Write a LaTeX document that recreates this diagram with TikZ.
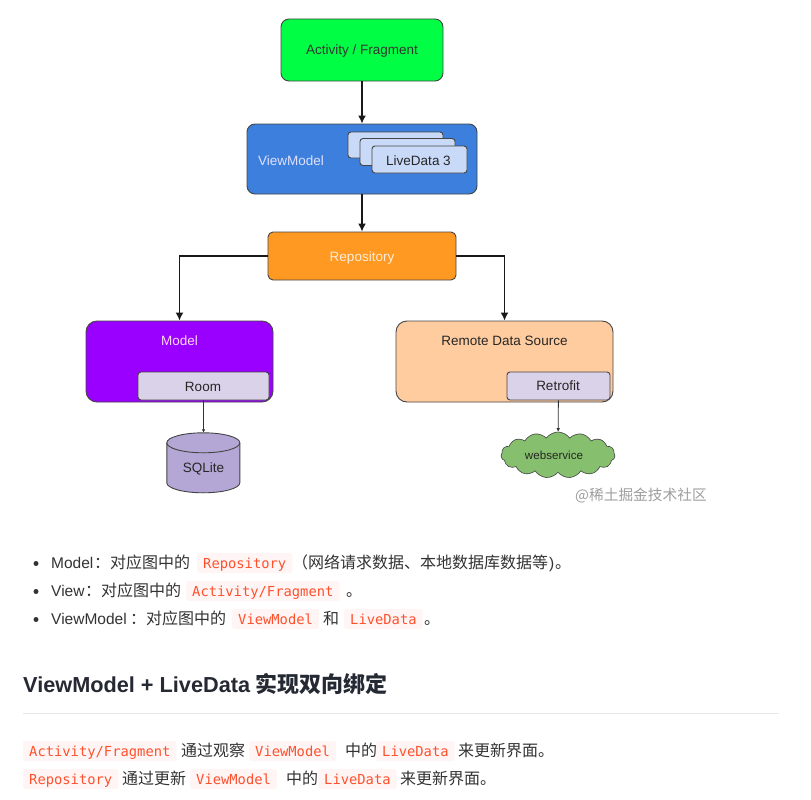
\documentclass[tikz,border=0pt]{standalone}
\usepackage{fontspec}
\setmainfont{Liberation Sans}
\newfontfamily\cjk{Noto Sans CJK SC}
\newfontfamily\codefont{DejaVu Sans Mono}
\usetikzlibrary{arrows.meta,shapes.symbols}
\definecolor{edgec}{HTML}{444444}
\definecolor{inkc}{HTML}{333333}
\definecolor{chipbg}{HTML}{FFF5F5}
\definecolor{chipfg}{HTML}{FF502C}
\definecolor{headc}{HTML}{252933}
\tikzset{
 box/.style={draw=edgec,line width=0.9pt,rounded corners=#1,inner sep=0pt},
 box/.default=7pt,
 lbl/.style={inner sep=0pt,font=\fontsize{13.5}{16}\selectfont},
 arrowbig/.style={draw=black!90,line width=1.5pt,-{Latex[length=8pt,width=8pt]}},
 arrowthin/.style={draw=black!80,line width=0.8pt,-{Latex[length=3.5pt,width=3.5pt]}},
 chip/.style={anchor=base west,fill=chipbg,text=chipfg,rounded corners=2.5pt,inner xsep=6pt,inner ysep=0pt,text height=15pt,text depth=5pt,font=\fontsize{13.8}{16}\selectfont\codefont},
 body/.style={anchor=base west,inner sep=0pt,text=inkc,font=\fontsize{15.5}{18}\selectfont},
 bodyzh/.style={anchor=base west,inner sep=0pt,text=inkc,font=\fontsize{16}{18}\selectfont\cjk},
 dot/.style={circle,fill=inkc,inner sep=0pt,minimum size=5pt},
}
\begin{document}
\begin{tikzpicture}[x=1pt,y=-1pt]
\useasboundingbox[fill=white] (0,0) rectangle (811,800);
% boxes
\node[box=8pt,fill={rgb,255:red,0;green,255;blue,68},minimum width=162pt,minimum height=62pt] (act) at (362,50) {};
\node[lbl,text=black!80] (acttxt) at (362,51.5) {Activity / Fragment};
\node[box=8pt,fill={rgb,255:red,60;green,127;blue,221},minimum width=230pt,minimum height=70pt] (vm) at (362,159) {};
\node[lbl,text=white!88!blue,anchor=west] (vmtxt) at (258,160.5) {ViewModel};
\node[box=3pt,fill={rgb,255:red,201;green,218;blue,248},minimum width=95pt,minimum height=26pt] (ld1) at (395.5,145) {};
\node[box=3pt,fill={rgb,255:red,201;green,218;blue,248},minimum width=95pt,minimum height=27pt] (ld2) at (407.5,152) {};
\node[box=3pt,fill={rgb,255:red,201;green,218;blue,248},minimum width=95pt,minimum height=27pt] (ld3) at (419.5,159.5) {};
\node[lbl,text=black!85] (ldtxt) at (418.5,160.5) {LiveData 3};
\node[box=5pt,fill={rgb,255:red,255;green,153;blue,34},minimum width=188pt,minimum height=48pt] (repo) at (362,256) {};
\node[lbl,text=white!85!orange] (repotxt) at (362,258) {Repository};
\node[box=11pt,fill={rgb,255:red,153;green,0;blue,255},minimum width=187pt,minimum height=81pt] (model) at (179.5,361.5) {};
\node[lbl,text=white!85!magenta] (modeltxt) at (179.5,340.5) {Model};
\node[box=3pt,fill={rgb,255:red,218;green,210;blue,233},minimum width=131pt,minimum height=28pt] (room) at (203.5,386) {};
\node[lbl,text=black!85] (roomtxt) at (203,386.5) {Room};
\node[box=11pt,fill={rgb,255:red,255;green,204;blue,160},minimum width=217pt,minimum height=81pt] (remote) at (504.5,361.5) {};
\node[lbl,text=black!85] (remotetxt) at (504.5,340.5) {Remote Data Source};
\node[box=3pt,fill={rgb,255:red,218;green,210;blue,233},minimum width=103pt,minimum height=28pt] (retro) at (558.5,386) {};
\node[lbl,text=black!85] (retrotxt) at (558,385.5) {Retrofit};
% cylinder, drawn on the frame of an invisible node
\node[inner sep=0pt,minimum width=73pt,minimum height=60pt] (sql) at (203.5,463) {};
\draw[draw=edgec,line width=0.9pt,fill={rgb,255:red,180;green,167;blue,214}]
  (sql.north west) ++(0,10) arc[start angle=180,end angle=0,x radius=36.5pt,y radius=10pt]
  -- ++(0,40) arc[start angle=0,end angle=-180,x radius=36.5pt,y radius=10pt] -- cycle;
\draw[draw=edgec,line width=0.9pt] (sql.north west) ++(0,10) arc[start angle=180,end angle=360,x radius=36.5pt,y radius=10pt];
\node[lbl,text=black!85] (sqltxt) at (203.5,469) {SQLite};
\node[cloud,cloud puffs=15,cloud puff arc=110,aspect=2.5,draw=edgec,line width=0.6pt,fill={rgb,255:red,134;green,192;blue,110},minimum width=114pt,minimum height=46pt,inner sep=0pt] (web) at (558,455) {};
\node[lbl,font=\fontsize{11.6}{14}\selectfont,text=black!85] (webtxt) at (554,455) {webservice};
% connectors
\draw[arrowbig] (act) -- (vm);
\draw[arrowbig] (vm) -- (repo);
\draw[arrowbig] (repo.west) -| (model.north);
\draw[arrowbig] (repo.east) -| (remote.north);
\draw[arrowthin] (room) -- (sql);
\draw[arrowthin] (retro) -- (web);
% watermark
\node[anchor=west,inner sep=0pt,text=black!38,font=\fontsize{14.7}{18}\selectfont\cjk] (wm) at (575,495.5) {@稀土掘金技术社区};
% bullets
\node[dot] (b1) at (36,563.5) {};
\node[dot] (b2) at (36,591.5) {};
\node[dot] (b3) at (36,619.5) {};
\node[body] (l1a) at (51,568) {Model};
\node[bodyzh] (l1b) at (94,568) {：对应图中的};
\node[chip] (l1c) at (197,568) {Repository};
\node[bodyzh] (l1d) at (292,568) {（网络请求数据、本地数据库数据等};
\node[body] (l1e) at (549,568) {)};
\node[bodyzh] (l1f) at (555,568) {。};
\node[body] (l2a) at (51,596) {View};
\node[bodyzh] (l2b) at (85,596) {：对应图中的};
\node[chip] (l2c) at (186,596) {Activity/Fragment};
\node[bodyzh] (l2d) at (346,596) {。};
\node[body] (l3a) at (51,624) {ViewModel};
\node[bodyzh] (l3b) at (130,624) {：对应图中的};
\node[chip] (l3c) at (232,624) {ViewModel};
\node[bodyzh] (l3d) at (323,624) {和};
\node[chip] (l3e) at (344,624) {LiveData};
\node[bodyzh] (l3f) at (424,624) {。};
% heading
\node[anchor=base west,inner sep=0pt,text=headc,font=\fontsize{21.7}{26}\selectfont\bfseries] (h1a) at (23,692) {ViewModel + LiveData};
\node[anchor=base west,inner sep=0pt,text=headc,font=\fontsize{22}{26}\selectfont\cjk\bfseries] (h1b) at (255,692) {实现双向绑定};
\fill[black!9] (23,712.5) rectangle (779,713.5);
% paragraph
\node[chip] (p1a) at (23,756) {Activity/Fragment};
\node[bodyzh] (p1b) at (181,756) {通过观察};
\node[chip] (p1c) at (249,756) {ViewModel};
\node[bodyzh] (p1d) at (345,756) {中的};
\node[chip] (p1e) at (376,756) {LiveData};
\node[bodyzh] (p1f) at (458,756) {来更新界面。};
\node[chip] (p2a) at (23,784) {Repository};
\node[bodyzh] (p2b) at (122,784) {通过更新};
\node[chip] (p2c) at (190,784) {ViewModel};
\node[bodyzh] (p2d) at (286,784) {中的};
\node[chip] (p2e) at (318,784) {LiveData};
\node[bodyzh] (p2f) at (400,784) {来更新界面。};
\end{tikzpicture}
\end{document}
